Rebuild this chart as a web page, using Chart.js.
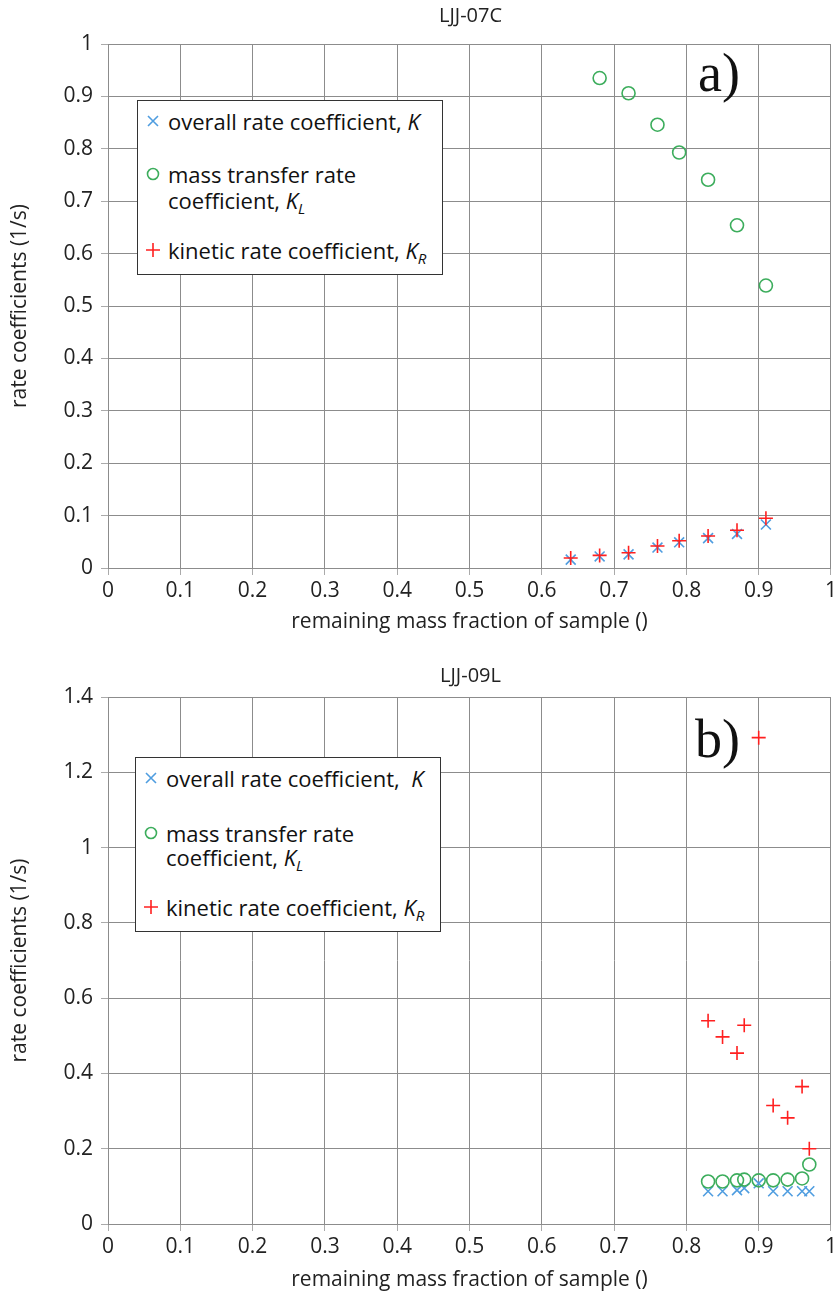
<!DOCTYPE html>
<html>
<head>
<meta charset="utf-8">
<script src="https://cdn.jsdelivr.net/npm/chart.js@4"></script>
<style>
  body { margin: 0; background: #fff; }
  #wrap { position: relative; width: 840px; height: 1300px; }
  .panel { position: absolute; left: 0; width: 840px; height: 650px; }
  .titulo {
    position: absolute; left: 108px; width: 725px; text-align: center;
    font-family: "Open Sans", sans-serif; font-size: 20px; line-height: 24px; color: #222;
  }
  .legend {
    position: absolute; background: #fff; border: 1.5px solid #333;
    font-family: "Open Sans", sans-serif; font-size: 22px; color: #111;
    box-sizing: border-box;
  }
  .legend .row { position: absolute; left: 30px; white-space: nowrap; line-height: 24px; transform: translateY(-50%); }
  .legend .sym { position: absolute; left: -22px; top: 5px; width: 14px; height: 14px; }
  .legend i sub { font-size: 15px; vertical-align: -5px; }
  .tag { position: absolute; font-family: "Liberation Serif", serif; font-size: 54px; line-height: 1; color: #111; }
</style>
</head>
<body>
<div id="wrap">
  <div class="panel" style="top:0">
    <canvas id="chart-a" width="840" height="650"></canvas>
    <div class="titulo" style="top:3px">LJJ-07C</div>
    <div class="legend" style="left:137px;top:100px;width:306px;height:175px">
      <div class="row" style="top:20px"><svg class="sym" viewBox="0 0 14 14"><path d="M2 2L12 12M12 2L2 12" stroke="#4f9de0" stroke-width="1.6"/></svg>overall rate coefficient, <i>K</i></div>
      <div class="row" style="top:73px"><svg class="sym" viewBox="0 0 14 14"><circle cx="7" cy="7" r="5.5" fill="none" stroke="#3cad5c" stroke-width="1.6"/></svg>mass transfer rate</div>
      <div class="row" style="top:103px">coefficient, <i>K<sub>L</sub></i></div>
      <div class="row" style="top:153px"><svg class="sym" viewBox="0 0 14 14"><path d="M7 0V14M0 7H14" stroke="#ff2020" stroke-width="1.6"/></svg>kinetic rate coefficient, <i>K<sub>R</sub></i></div>
    </div>
    <div class="tag" style="left:698px;top:46px">a)</div>
  </div>
  <div class="panel" style="top:650px">
    <canvas id="chart-b" width="840" height="650"></canvas>
    <div class="titulo" style="top:13px">LJJ-09L</div>
    <div class="legend" style="left:135px;top:107px;width:306px;height:175px">
      <div class="row" style="top:20px"><svg class="sym" viewBox="0 0 14 14"><path d="M2 2L12 12M12 2L2 12" stroke="#4f9de0" stroke-width="1.6"/></svg>overall rate coefficient,&nbsp; <i>K</i></div>
      <div class="row" style="top:75px"><svg class="sym" viewBox="0 0 14 14"><circle cx="7" cy="7" r="5.5" fill="none" stroke="#3cad5c" stroke-width="1.6"/></svg>mass transfer rate</div>
      <div class="row" style="top:103px">coefficient, <i>K<sub>L</sub></i></div>
      <div class="row" style="top:153px"><svg class="sym" viewBox="0 0 14 14"><path d="M7 0V14M0 7H14" stroke="#ff2020" stroke-width="1.6"/></svg>kinetic rate coefficient, <i>K<sub>R</sub></i></div>
    </div>
    <div class="tag" style="left:695px;top:62px">b)</div>
  </div>
</div>
<script>
// LJJ-07C
const fracA = [0.64, 0.68, 0.72, 0.76, 0.79, 0.83, 0.87, 0.91];
const kA = [0.016, 0.022, 0.026, 0.039, 0.049, 0.057, 0.065, 0.083];
const krA = [0.019, 0.024, 0.029, 0.042, 0.052, 0.061, 0.072, 0.095];
const fracLA = [0.68, 0.72, 0.76, 0.79, 0.83, 0.87, 0.91];
const klA = [0.935, 0.906, 0.846, 0.793, 0.741, 0.654, 0.539];

// LJJ-09L
const fracB = [0.83, 0.85, 0.87, 0.88, 0.90, 0.92, 0.94, 0.96, 0.97];
const kB = [0.087, 0.087, 0.090, 0.095, 0.108, 0.087, 0.087, 0.087, 0.087];
const klB = [0.113, 0.113, 0.116, 0.118, 0.116, 0.116, 0.118, 0.121, 0.158];
const krB = [0.54, 0.497, 0.454, 0.528, 1.292, 0.315, 0.282, 0.365, 0.2];

const X_TITLE = "remaining mass fraction of sample ()";
const Y_TITLE = "rate coefficients (1/s)";
const GRID = "#8c8c8c";
const FONT = "'Open Sans', sans-serif";

const puntos = (xs, ys) => xs.map((x, i) => ({ x, y: ys[i] }));

function serie(data, style, color, order) {
    return {
        data,
        pointStyle: style,
        pointRadius: style === "circle" ? 6.5 : 7,
        pointBorderColor: color,
        pointBackgroundColor: "transparent",
        pointBorderWidth: 1.6,
        showLine: false,
        order,
    };
}

function crearGrafico(id, yMax, ySize, datasets, cfg) {
    const ctx = document.getElementById(id).getContext("2d");
    return new Chart(ctx, {
        type: "scatter",
        data: { datasets },
        options: {
            responsive: false,
            animation: false,
            layout: { padding: { top: cfg.padTop, right: 0, bottom: 0, left: 0 } },
            plugins: {
                legend: { display: false },
                tooltip: { enabled: false },
            },
            scales: {
                x: {
                    type: "linear",
                    min: 0,
                    max: 1,
                    ticks: {
                        stepSize: 0.1,
                        color: "#222",
                        padding: 3,
                        font: { family: FONT, size: 21 },
                        callback: (v) => +v.toFixed(1),
                    },
                    grid: { color: GRID, tickLength: 7, tickColor: "#aaa" },
                    border: { color: GRID },
                    title: {
                        display: true,
                        text: X_TITLE,
                        color: "#222",
                        font: { family: FONT, size: 21 },
                        padding: { top: 0, bottom: cfg.xTitlePad },
                    },
                    afterFit: (s) => { s.height = cfg.xHeight; },
                },
                y: {
                    min: 0,
                    max: yMax,
                    ticks: {
                        stepSize: ySize,
                        color: "#222",
                        padding: 8,
                        font: { family: FONT, size: 21 },
                        callback: (v) => +v.toFixed(1),
                    },
                    grid: { color: GRID, tickLength: 7, tickColor: "#aaa" },
                    border: { color: GRID },
                    title: {
                        display: true,
                        text: Y_TITLE,
                        color: "#222",
                        font: { family: FONT, size: 21 },
                        padding: { top: 7, bottom: 0 },
                    },
                    afterFit: (s) => { s.width = 108; },
                },
            },
        },
    });
}

crearGrafico("chart-a", 1, 0.1, [
    serie(puntos(fracA, kA), "crossRot", "#4f9de0", 2),
    serie(puntos(fracLA, klA), "circle", "#3cad5c", 1),
    serie(puntos(fracA, krA), "cross", "#ff2020", 0),
], { padTop: 44, xHeight: 82, xTitlePad: 15 });

crearGrafico("chart-b", 1.4, 0.2, [
    serie(puntos(fracB, kB), "crossRot", "#4f9de0", 2),
    serie(puntos(fracB, klB), "circle", "#3cad5c", 1),
    serie(puntos(fracB, krB), "cross", "#ff2020", 0),
], { padTop: 47, xHeight: 76, xTitlePad: 7 });
</script>
</body>
</html>
